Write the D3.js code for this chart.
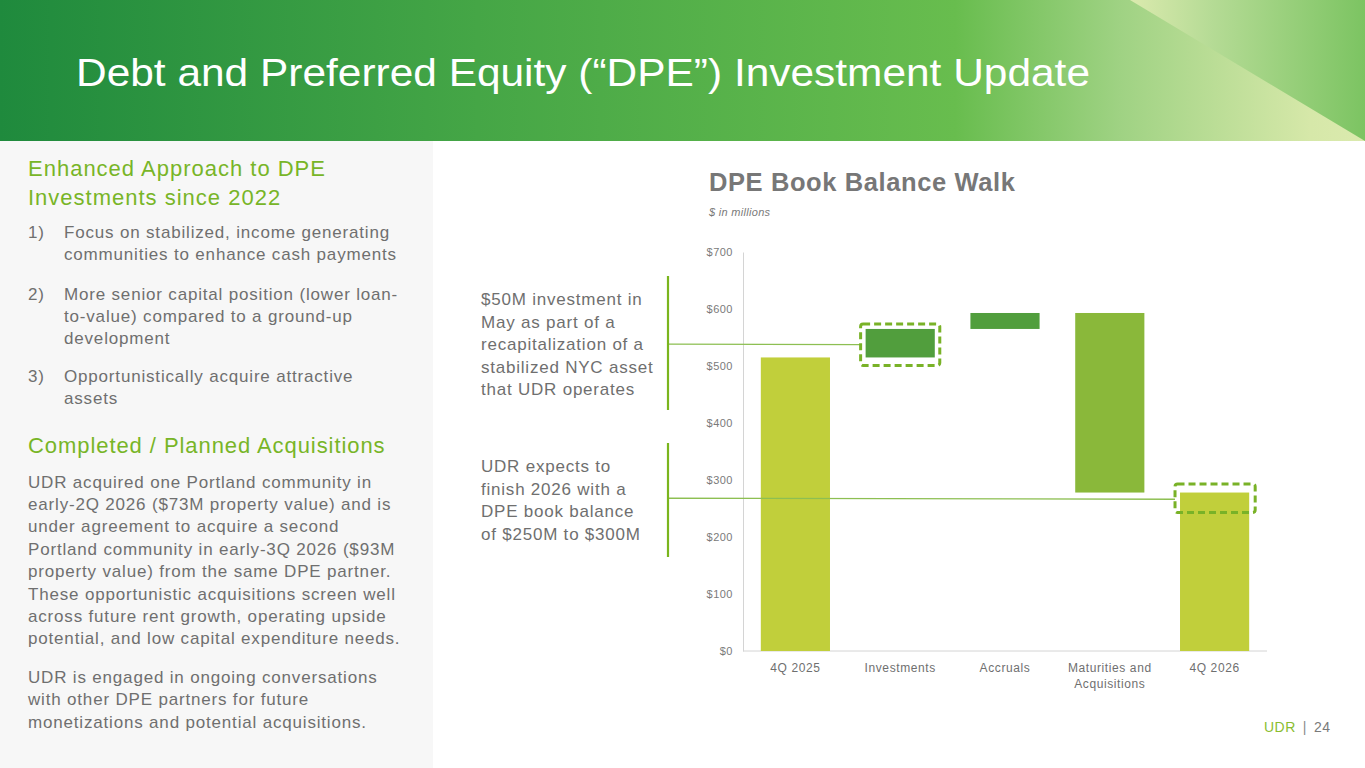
<!DOCTYPE html>
<html>
<head>
<meta charset="utf-8">
<script src="https://cdn.jsdelivr.net/npm/d3@7"></script>
<style>
  html, body { margin: 0; padding: 0; background: #ffffff; }
  svg { display: block; font-family: "Liberation Sans", Arial, sans-serif; }
</style>
</head>
<body>
<svg id="chart" width="1365" height="768"></svg>
<script>
// ---------------- DATA ----------------
const categories = ["4Q 2025", "Investments", "Accruals", "Maturities and|Acquisitions", "4Q 2026"];
const stepValues = [515, 50, 28, -315, 278];
const stepKinds  = ["total", "delta", "delta", "delta", "total"];
const yTicks = [0, 100, 200, 300, 400, 500, 600, 700];
const guidanceRange = [243, 293];   // dashed box on 4Q 2026 ($250M-$300M guidance)

const slideTitle = "Debt and Preferred Equity (\u201cDPE\u201d) Investment Update";
const chartTitle = "DPE Book Balance Walk";
const chartSubtitle = "$ in millions";

const heading1 = ["Enhanced Approach to DPE", "Investments since 2022"];
const listItems = [
  ["1)", ["Focus on stabilized, income generating", "communities to enhance cash payments"]],
  ["2)", ["More senior capital position (lower loan-", "to-value) compared to a ground-up", "development"]],
  ["3)", ["Opportunistically acquire attractive", "assets"]]
];
const heading2 = "Completed / Planned Acquisitions";
const para1 = [
  "UDR acquired one Portland community in",
  "early-2Q 2026 ($73M property value) and is",
  "under agreement to acquire a second",
  "Portland community in early-3Q 2026 ($93M",
  "property value) from the same DPE partner.",
  "These opportunistic acquisitions screen well",
  "across future rent growth, operating upside",
  "potential, and low capital expenditure needs."
];
const para2 = [
  "UDR is engaged in ongoing conversations",
  "with other DPE partners for future",
  "monetizations and potential acquisitions."
];
const note1 = ["$50M investment in", "May as part of a", "recapitalization of a", "stabilized NYC asset", "that UDR operates"];
const note2 = ["UDR expects to", "finish 2026 with a", "DPE book balance", "of $250M to $300M"];

// ---------------- SETUP ----------------
const svg = d3.select("#chart");
const defs = svg.append("defs");

const hg = defs.append("linearGradient").attr("id", "hdr").attr("x1", 0).attr("x2", 1).attr("y1", 0).attr("y2", 0);
[[0, "#1f8a3d"], [0.35, "#45a646"], [0.7, "#68bd4e"], [0.82, "#9fd283"], [0.96, "#d6e8a9"], [1, "#dbeaae"]]
  .forEach(([o, c]) => hg.append("stop").attr("offset", o).attr("stop-color", c));
const tg = defs.append("linearGradient").attr("id", "tri").attr("x1", 0).attr("x2", 1).attr("y1", 0).attr("y2", 0);
[[0, "#dbeaae"], [0.35, "#b5db95"], [1, "#7cc462"]]
  .forEach(([o, c]) => tg.append("stop").attr("offset", o).attr("stop-color", c));

svg.append("rect").attr("x", 0).attr("y", 0).attr("width", 1365).attr("height", 141).attr("fill", "url(#hdr)");
svg.append("path").attr("d", "M1130,0 L1365,0 L1365,141 Z").attr("fill", "url(#tri)");
svg.append("text").attr("x", 76).attr("y", 86)
  .attr("font-size", 39).attr("fill", "#ffffff")
  .attr("textLength", 1014).attr("lengthAdjust", "spacingAndGlyphs")
  .text(slideTitle);

// left panel
svg.append("rect").attr("x", 0).attr("y", 141).attr("width", 433).attr("height", 627).attr("fill", "#f7f7f7");
const green = "#78b527";
const bodyGray = "#6f6f6f";

function txt(x, y, s, size, fill, ls) {
  return svg.append("text").attr("x", x).attr("y", y)
    .attr("font-size", size).attr("fill", fill).attr("letter-spacing", ls).text(s);
}

heading1.forEach((t, i) => txt(28, [168, 197][i] + 8, t, 22, green, 1.0));
const itemCenters = [[232, 254], [294, 316, 338], [376, 398]];
listItems.forEach(([num, lines], i) => {
  txt(28, itemCenters[i][0] + 6, num, 17, bodyGray, 0.8);
  lines.forEach((t, j) => txt(64, itemCenters[i][j] + 6, t, 17, bodyGray, 0.82));
});
txt(28, 445 + 8, heading2, 22, green, 0.93);
para1.forEach((t, i) => txt(28, 481.5 + i * 22.4 + 6, t, 17, bodyGray, 0.82));
para2.forEach((t, i) => txt(28, 676.5 + i * 22.5 + 6, t, 17, bodyGray, 0.82));

// chart title
txt(709, 191, chartTitle, 25.5, "#777777", 0.6).attr("font-weight", "bold");
txt(709, 216, chartSubtitle, 11, "#7a7a7a", 0.3).attr("font-style", "italic");

// ---------------- SCALES ----------------
const plot = { left: 743, right: 1267, top: 252, bottom: 651 };
const x = d3.scaleBand().domain(categories).range([plot.left, plot.right])
  .paddingInner(0.34).paddingOuter(0.17);
const y = d3.scaleLinear().domain([0, 700]).range([plot.bottom, plot.top]);

let running = 0;
const bars = categories.map((c, i) => {
  let lo, hi;
  if (stepKinds[i] === "total") { lo = 0; hi = stepValues[i]; running = stepValues[i]; }
  else { const s = running; running += stepValues[i]; lo = Math.min(s, running); hi = Math.max(s, running); }
  return { cat: c, lo, hi, kind: stepKinds[i], v: stepValues[i] };
});
const barColor = (d) => d.kind === "total" ? "#c1cf3b" : (d.v < 0 ? "#8ab83a" : "#519e3d");

const yAxis = d3.axisLeft(y).tickValues(yTicks).tickSize(0).tickPadding(10).tickFormat(d => "$" + d);
const gy = svg.append("g").attr("transform", `translate(${plot.left},0)`).call(yAxis);
gy.select(".domain").attr("stroke", "#d4d4d4");
gy.selectAll("text").attr("font-size", 11).attr("fill", "#7a7a7a")
  .attr("letter-spacing", 0.5).attr("font-family", "Liberation Sans, Arial, sans-serif");

const xAxis = d3.axisBottom(x).tickSize(0).tickPadding(12).tickFormat(() => "");
const gx = svg.append("g").attr("transform", `translate(0,${plot.bottom})`).call(xAxis);
gx.select(".domain").attr("stroke", "#d4d4d4").attr("d", `M${plot.left},0H${plot.right}`);
gx.selectAll(".tick").each(function(c) {
  const parts = c.split("|");
  const t = d3.select(this).append("text").attr("text-anchor", "middle")
    .attr("font-size", 12).attr("fill", "#6f6f6f").attr("letter-spacing", 0.6)
    .attr("font-family", "Liberation Sans, Arial, sans-serif");
  parts.forEach((p, i) => t.append("tspan").attr("x", 0).attr("y", 21 + i * 16).text(p));
});

svg.append("g").selectAll("rect").data(bars).join("rect")
  .attr("x", d => x(d.cat)).attr("width", x.bandwidth())
  .attr("y", d => y(d.hi)).attr("height", d => y(d.lo) - y(d.hi))
  .attr("fill", barColor);

const invBar = bars[1];
const box1 = { x: x(invBar.cat) - 5, y: y(invBar.hi) - 5, w: x.bandwidth() + 10, h: y(invBar.lo) - y(invBar.hi) + 13 };
const endCat = categories[4];
const box2 = { x: x(endCat) - 5, y: y(guidanceRange[1]), w: x.bandwidth() + 11, h: y(guidanceRange[0]) - y(guidanceRange[1]) };
const dashColor = "#79b227";

const annX = 668;
svg.append("line").attr("x1", annX).attr("x2", box1.x).attr("y1", box1.y + box1.h / 2 - 0.5).attr("y2", box1.y + box1.h / 2)
  .attr("stroke", "#8dbf52").attr("stroke-width", 1.3);
svg.append("line").attr("x1", annX).attr("x2", box2.x).attr("y1", box2.y + box2.h / 2).attr("y2", box2.y + box2.h / 2 + 1)
  .attr("stroke", "#8dbf52").attr("stroke-width", 1.3);
svg.append("line").attr("x1", annX).attr("x2", annX).attr("y1", 276).attr("y2", 410).attr("stroke", "#7ab51d").attr("stroke-width", 2.2);
svg.append("line").attr("x1", annX).attr("x2", annX).attr("y1", 443).attr("y2", 557).attr("stroke", "#7ab51d").attr("stroke-width", 2.2);

[box1, box2].forEach(b => {
  svg.append("rect").attr("x", b.x).attr("y", b.y).attr("width", b.w).attr("height", b.h)
    .attr("rx", 2.5).attr("fill", "none").attr("stroke", dashColor).attr("stroke-width", 3)
    .attr("stroke-dasharray", "7,4");
});

note1.forEach((t, i) => txt(481, 299 + i * 22.6 + 6, t, 17, bodyGray, 0.78));
note2.forEach((t, i) => txt(481, 466 + i * 22.6 + 6, t, 17, bodyGray, 0.78));

// footer
const ft = svg.append("text").attr("x", 1264).attr("y", 732).attr("font-size", 14).attr("letter-spacing", 0.5);
ft.append("tspan").attr("fill", "#8bbd2f").text("UDR");
ft.append("tspan").attr("fill", "#8a8a8a").attr("dx", 7).text("|");
ft.append("tspan").attr("fill", "#7a7a7a").attr("dx", 7).text("24");
</script>
</body>
</html>
